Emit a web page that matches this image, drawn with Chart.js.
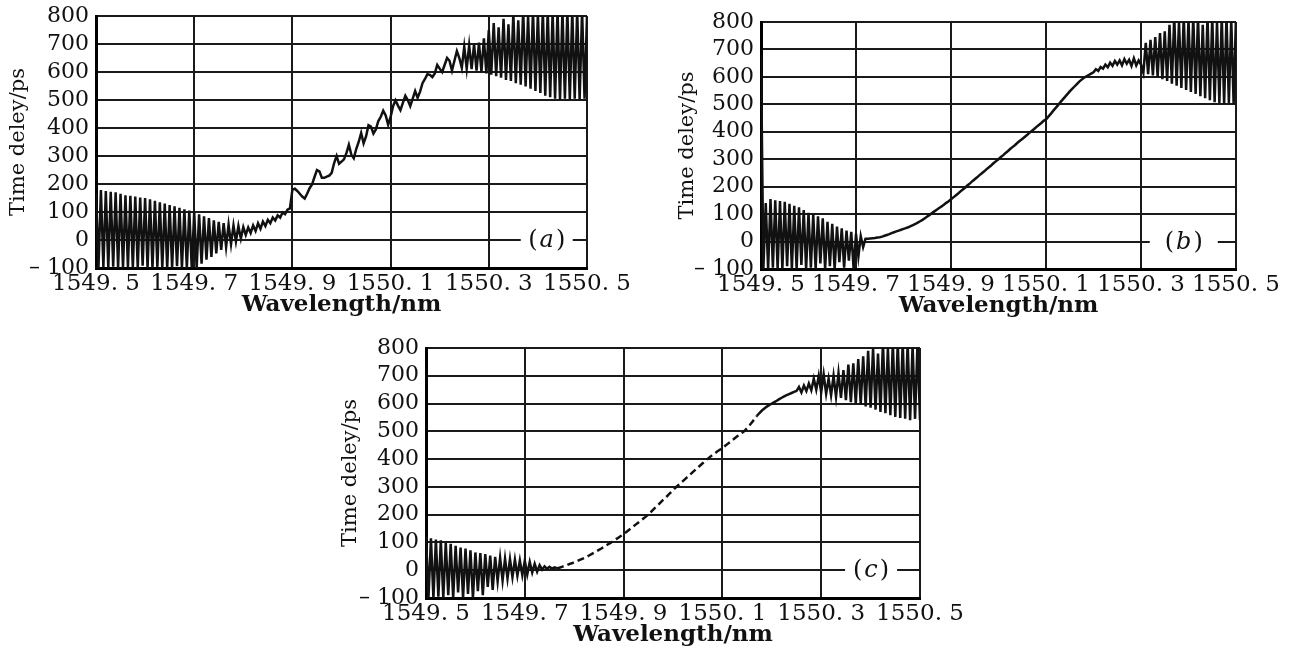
<!DOCTYPE html>
<html>
<head>
<meta charset="utf-8">
<title>Time delay vs wavelength</title>
<script src="https://cdn.jsdelivr.net/npm/chart.js@4.4.0/dist/chart.umd.min.js"></script>
<style>
    html, body { margin: 0; padding: 0; background: #fff; }
    body { width: 1290px; height: 650px; position: relative; overflow: hidden; }
    canvas { position: absolute; }
    #idChartA { left: 0px; top: 0px; }
    #idChartB { left: 660px; top: 0px; }
    #idChartC { left: 330px; top: 330px; }
</style>
</head>
<body>
<canvas id="idChartA" width="650" height="320"></canvas>
<canvas id="idChartB" width="630" height="330"></canvas>
<canvas id="idChartC" width="640" height="320"></canvas>
<script>
// samples are read every 0.005 nm starting at 1549.5 nm
var fWlStart = 1549.5;
var fWlStep = 0.005;

var aWlTicks = [1549.5, 1550.5];      // x axis range, tick step 0.2
var aDelayTicks = [-100, 800];        // y axis range, tick step 100

// time delay (ps), panel (a)
var aDelayA = [
    165, -100, 178, -98, 175, -100, 172, -95, 170, -100,
    165, -100, 160, -97, 158, -100, 155, -100, 152, -92,
    150, -100, 145, -100, 140, -96, 135, -100, 130, -100,
    125, -100, 120, -94, 115, -100, 110, -100, 105, -100,
    100, -100, 92, -85, 85, -70, 78, -60, 70, -48,
    65, -35, 60, -25, 55, -15, 52, -5, 50, 5,
    46, 18, 45, 25, 52, 32, 60, 40, 66, 50,
    72, 60, 80, 70, 88, 80, 98, 92, 108, 113,
    180, 183, 175, 165, 155, 148, 165, 185, 198, 225,
    250, 245, 222, 222, 226, 230, 240, 275, 300, 272,
    280, 288, 310, 340, 305, 292, 325, 350, 382, 345,
    370, 410, 405, 380, 395, 425, 440, 462, 445, 412,
    440, 478, 499, 480, 464, 490, 515, 500, 478, 505,
    532, 508, 530, 560, 575, 592, 590, 582, 595, 625,
    612, 600, 625, 650, 640, 605, 640, 675, 650, 615,
    690, 612, 695, 610, 700, 605, 705, 600, 720, 595,
    750, 590, 775, 585, 760, 580, 790, 572, 770, 568,
    810, 560, 785, 555, 820, 548, 800, 540, 820, 532,
    810, 525, 820, 515, 820, 510, 815, 505, 820, 500,
    820, 505, 820, 500, 820, 505, 820, 500, 820, 505,
    800
];

// time delay (ps), panel (b)
var aDelayB = [
    680, -100, 140, -100, 155, -95, 150, -100, 148, -100,
    145, -90, 138, -100, 130, -100, 125, -85, 115, -100,
    105, -95, 100, -100, 92, -80, 85, -100, 72, -90,
    65, -100, 55, -75, 48, -95, 40, -70, 35, -100,
    28, -55, 20, -20, 10, 10, 11, 12, 13, 15,
    16, 18, 21, 24, 27, 31, 34, 37, 40, 43,
    46, 49, 52, 56, 60, 64, 69, 74, 79, 85,
    91, 97, 104, 110, 116, 122, 128, 134, 141, 147,
    154, 161, 168, 175, 183, 190, 197, 205, 212, 220,
    227, 234, 242, 249, 256, 264, 271, 278, 286, 293,
    300, 308, 315, 323, 330, 338, 345, 352, 360, 367,
    374, 381, 388, 396, 403, 410, 418, 425, 432, 440,
    445, 455, 465, 476, 486, 496, 507, 517, 527, 537,
    547, 556, 565, 574, 583, 590, 597, 602, 607, 612,
    617, 628, 622, 636, 630, 645, 635, 652, 640, 658,
    645, 660, 642, 665, 648, 662, 640, 668, 642, 660,
    645, 615, 724, 610, 735, 605, 745, 600, 760, 592,
    766, 585, 790, 575, 820, 568, 800, 560, 820, 552,
    810, 545, 820, 538, 820, 530, 790, 522, 820, 515,
    820, 508, 800, 505, 820, 500, 820, 505, 810, 500,
    820
];

// time delay (ps), panel (c)
var aDelayC = [
    120, -100, 115, -100, 110, -95, 108, -100, 100, -90,
    95, -100, 88, -80, 82, -100, 78, -85, 72, -100,
    64, -75, 62, -90, 58, -60, 53, -71, 48, -40,
    45, -37, 42, -30, 40, -25, 38, -20, 35, -18,
    35, -15, 30, -8, 23, -5, 18, 2, 14, 5,
    12, 6, 10, 7, 9, 12, 15, 18, 22, 25,
    29, 32, 36, 40, 44, 48, 53, 58, 63, 68,
    73, 78, 84, 89, 95, 100, 106, 112, 118, 124,
    131, 137, 144, 151, 158, 165, 172, 179, 186, 193,
    201, 209, 218, 227, 235, 244, 253, 261, 270, 279,
    288, 297, 305, 313, 321, 329, 337, 345, 353, 361,
    369, 377, 385, 393, 401, 408, 415, 421, 428, 434,
    440, 447, 454, 461, 468, 475, 482, 489, 495, 502,
    512, 522, 533, 544, 556, 566, 575, 582, 589, 595,
    600, 605, 610, 616, 621, 626, 630, 634, 638, 642,
    645, 660, 640, 665, 645, 672, 648, 690, 650, 700,
    640, 705, 635, 690, 630, 700, 625, 710, 620, 720,
    612, 740, 605, 745, 600, 760, 598, 770, 590, 790,
    585, 800, 578, 780, 570, 820, 565, 800, 558, 820,
    552, 820, 548, 820, 545, 820, 540, 810, 545, 820,
    540
];

// the printed trace of (c) looks dashed in this range (nm)
var aDashRangeC = [1549.76, 1550.17];

var sFont = "'DejaVu Serif', serif";

// "(a)" style tag sitting on the zero grid line
const panelTagPlugin = {
    id: 'panelTag',
    afterDraw: function (chart, args, opts) {
        var ctx = chart.ctx;
        var cx = chart.scales.x.getPixelForValue(opts.wl);
        var cy = chart.scales.y.getPixelForValue(0);

        ctx.save();
        ctx.fillStyle = '#fff';
        ctx.fillRect(cx - opts.gap, cy - 3, opts.gap * 2, 6);

        var sUp = '24px ' + sFont;
        var sIt = 'italic 24px ' + sFont;
        ctx.font = sUp;
        var wOpen = ctx.measureText('(').width;
        var wClose = ctx.measureText(')').width;
        ctx.font = sIt;
        var wLetter = ctx.measureText(opts.letter).width;
        var iSpace = 2;
        var x = cx - (wOpen + wLetter + wClose + 2 * iSpace) / 2;

        ctx.fillStyle = '#111';
        ctx.textBaseline = 'middle';
        ctx.textAlign = 'left';
        ctx.font = sUp;
        ctx.fillText('(', x, cy + 1);
        x += wOpen + iSpace;
        ctx.font = sIt;
        ctx.fillText(opts.letter, x, cy + 1);
        x += wLetter + iSpace;
        ctx.font = sUp;
        ctx.fillText(')', x, cy + 1);
        ctx.restore();
    }
};

function buildPoints(aDelay) {
    var aData = [];
    for (var i = 0; i < aDelay.length; i++) {
        aData.push({
            x: fWlStart + i * fWlStep,
            y: aDelay[i]
        });
    }
    return aData;
}

function formatWl(fValue) {
    return fValue.toFixed(1).replace('.', '. ');
}

function formatDelay(fValue) {
    return fValue < 0 ? '\u2013 ' + (-fValue) : String(fValue);
}

function initPanel(sId, aDelay, oPanel) {

    const data = {
        datasets: [{
            label: 'Time delay',
            borderColor: '#111',
            borderWidth: 2.5,
            pointRadius: 0,
            tension: 0,
            data: buildPoints(aDelay),
            segment: {
                borderDash: function (ctx) {
                    if (!oPanel.dash) {
                        return undefined;
                    }
                    var x = ctx.p0.parsed.x;
                    return (x > oPanel.dash[0] && x < oPanel.dash[1]) ? [7, 4] : undefined;
                }
            }
        }]
    };

    const config = {
        type: 'line',
        data: data,
        options: {
            responsive: false,
            animation: false,
            events: [],
            layout: {
                padding: { left: 0, top: oPanel.top, right: oPanel.right, bottom: 0 }
            },
            plugins: {
                legend: { display: false },
                tooltip: { enabled: false },
                panelTag: { letter: oPanel.letter, wl: oPanel.tagWl, gap: oPanel.tagGap }
            },
            scales: {
                x: {
                    type: 'linear',
                    min: aWlTicks[0],
                    max: aWlTicks[1],
                    afterFit: function (oScale) {
                        oScale.height = oPanel.xHeight;
                        oScale.paddingLeft = 0;
                        oScale.paddingRight = 0;
                    },
                    ticks: {
                        stepSize: 0.2,
                        autoSkip: false,
                        maxRotation: 0,
                        padding: 2,
                        color: '#111',
                        font: { family: sFont, size: 23 },
                        callback: formatWl
                    },
                    grid: { color: '#1a1a1a', lineWidth: 2, drawTicks: false },
                    border: { color: '#000', width: 3 },
                    title: {
                        display: true,
                        text: 'Wavelength/nm',
                        color: '#111',
                        font: { family: sFont, size: 23, weight: 'bold' },
                        padding: { top: 0, bottom: oPanel.xTitlePad }
                    }
                },
                y: {
                    min: aDelayTicks[0],
                    max: aDelayTicks[1],
                    afterFit: function (oScale) {
                        oScale.width = oPanel.yWidth;
                        oScale.paddingTop = 0;
                        oScale.paddingBottom = 0;
                    },
                    ticks: {
                        stepSize: 100,
                        autoSkip: false,
                        padding: 7,
                        color: '#111',
                        font: { family: sFont, size: 22 },
                        callback: formatDelay
                    },
                    grid: { color: '#1a1a1a', lineWidth: 2, drawTicks: false },
                    border: { color: '#000', width: 3 },
                    title: {
                        display: true,
                        text: 'Time deley/ps',
                        color: '#111',
                        font: { family: sFont, size: 21 },
                        padding: { top: oPanel.yTitlePad, bottom: 0 }
                    }
                }
            }
        },
        plugins: [panelTagPlugin]
    };

    return new Chart(document.getElementById(sId), config);
}

// chart a
initPanel('idChartA', aDelayA, {
    top: 16, right: 63, yWidth: 96, xHeight: 52,
    xTitlePad: 1, yTitlePad: 6,
    letter: 'a', tagWl: 1550.418, tagGap: 26
});

// chart b
initPanel('idChartB', aDelayB, {
    top: 22, right: 54, yWidth: 101, xHeight: 61,
    xTitlePad: 10, yTitlePad: 15,
    letter: 'b', tagWl: 1550.39, tagGap: 34
});

// chart c
initPanel('idChartC', aDelayC, {
    top: 18, right: 50, yWidth: 96, xHeight: 52,
    xTitlePad: 1, yTitlePad: 8,
    letter: 'c', tagWl: 1550.401, tagGap: 26, dash: aDashRangeC
});
</script>
</body>
</html>
